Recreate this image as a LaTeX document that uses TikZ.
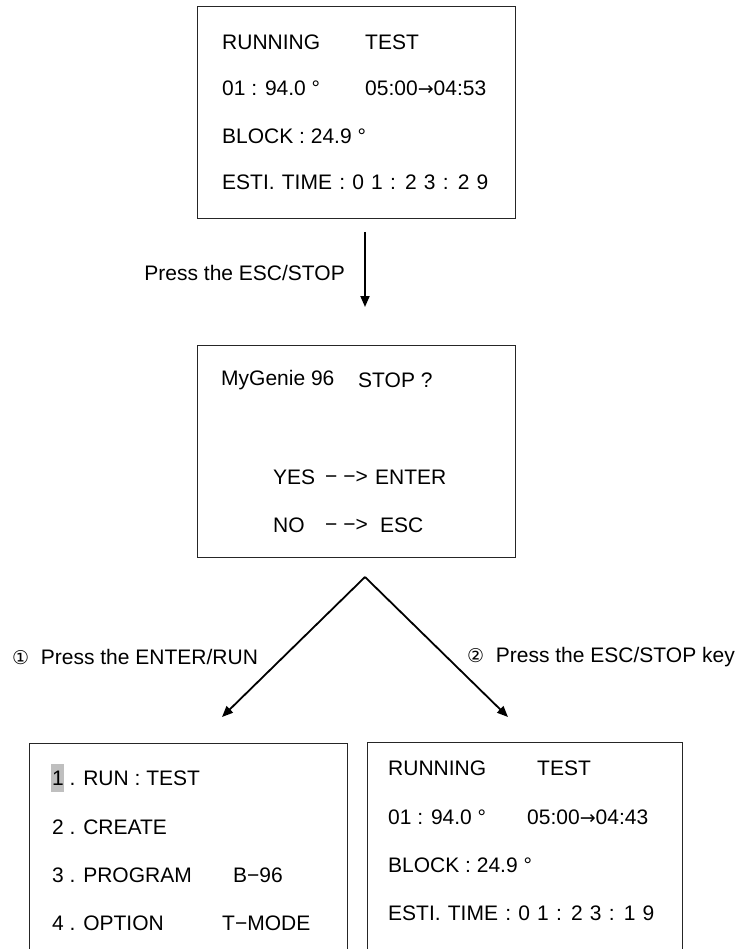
\documentclass[tikz,border=0pt]{standalone}
\usepackage{fontspec}
\setmainfont{Liberation Sans}
\newfontfamily\symfont{DejaVu Sans}
\usetikzlibrary{arrows.meta}
\newcommand{\rarr}{{\symfont\fontsize{19}{20}\selectfont →}}
\newcommand{\widesp}{\spaceskip=7.2pt plus 0pt minus 0pt\relax}
\begin{document}
\begin{tikzpicture}[x=1pt,y=-1pt,
  screen/.style={draw=black!85, line width=1.3pt, anchor=north west, inner sep=0pt},
  txt/.style={anchor=west, inner sep=0pt, font=\fontsize{21}{25}\selectfont},
  flow/.style={line width=1.8pt, -{Triangle[length=11pt,width=9pt]}}]
\useasboundingbox (0,0) rectangle (751,949);
\clip (0,0) rectangle (751,949);

% screens
\node[screen, minimum width=318pt, minimum height=212pt] (s1) at (197,6) {};
\node[screen, minimum width=318pt, minimum height=212pt] (s2) at (197,345) {};
\node[screen, minimum width=318pt, minimum height=240pt] (s3) at (29,743) {};
\node[screen, minimum width=315pt, minimum height=240pt] (s4) at (367,742) {};

% top screen
\node[txt] (t1a) at (222,42) {RUNNING};
\node[txt] (t1b) at (365,42) {TEST};
\node[txt] (t2a) at (222,88) {01 : 94.0 °};
\node[txt] (t2b) at (365,88) {05:00\rarr04:53};
\node[txt] (t3) at (222,136) {BLOCK : 24.9 °};
\node[txt] (t4) at (222,182) {\widesp ESTI. TIME : 0 1 : 2 3 : 2 9};

% first arrow
\coordinate (a1s) at (365,232);
\coordinate (a1e) at (365,307);
\draw[flow] (a1s) -- (a1e);
\node[txt, anchor=east] (l1) at (345,273) {Press the ESC/STOP};

% stop screen
\node[txt] (m1a) at (221,380) {MyGenie 96};
\node[txt] (m1b) at (358,380) {STOP ?};
\node[txt] (m2a) at (273,477) {YES};
\node[txt] (m2b) at (325,477) {− −>};
\node[txt] (m2c) at (375,477) {ENTER};
\node[txt] (m3a) at (273,525) {NO};
\node[txt] (m3b) at (325,525) {− −>};
\node[txt] (m3c) at (380,525) {ESC};

% branch arrows
\coordinate (apex) at (365,577);
\coordinate (lt) at (222,717);
\coordinate (rt) at (508,717);
\draw[flow] (apex) -- (lt);
\draw[flow] (apex) -- (rt);
\node[txt] (l2) at (12,657) {{\symfont\fontsize{19}{22}\selectfont ①}\ \ Press the ENTER/RUN};
\node[txt] (l3) at (467,657) {{\symfont\fontsize{19}{22}\selectfont ②}\ \ Press the ESC/STOP key};

% menu screen
\fill[black!25] (51,764) rectangle (64,792);
\node[txt] (n1) at (52,778) {1 . RUN : TEST};
\node[txt] (n2) at (52,827) {2 . CREATE};
\node[txt] (n3a) at (52,875) {3 . PROGRAM};
\node[txt] (n3b) at (233,875) {B−96};
\node[txt] (n4a) at (52,923) {4 . OPTION};
\node[txt] (n4b) at (222,923) {T−MODE};

% running screen
\node[txt] (r1a) at (388,768) {RUNNING};
\node[txt] (r1b) at (537,768) {TEST};
\node[txt] (r2a) at (388,817) {01 : 94.0 °};
\node[txt] (r2b) at (527,817) {05:00\rarr04:43};
\node[txt] (r3) at (388,865) {BLOCK : 24.9 °};
\node[txt] (r4) at (388,913) {\widesp ESTI. TIME : 0 1 : 2 3 : 1 9};
\end{tikzpicture}
\end{document}
